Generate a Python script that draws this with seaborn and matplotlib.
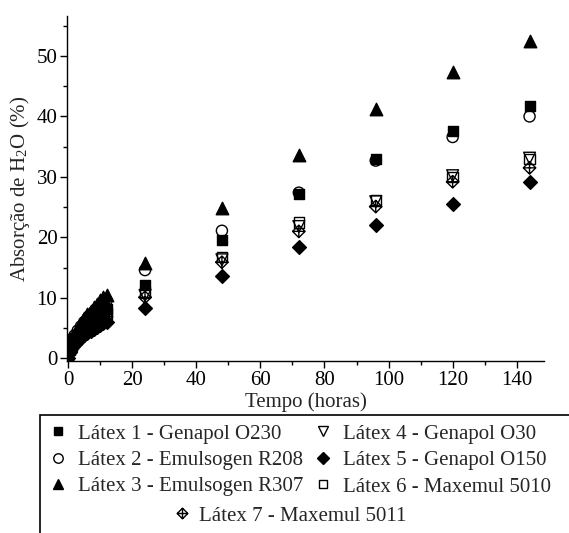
import numpy as np
import pandas as pd
import matplotlib
import matplotlib.pyplot as plt
import seaborn as sns
from matplotlib.path import Path
from matplotlib.lines import Line2D
from matplotlib.patches import Rectangle

# %% data
tempo = [0, 0.5, 1, 1.5, 2, 3, 4, 5, 6, 7, 8, 9, 10, 11, 12, 24, 48, 72, 96, 120, 144]

latex1 = [0, 1.5, 2.3, 2.8, 3.2, 3.9, 4.5, 5.1, 5.6, 6.1, 6.5, 7.0, 7.4, 7.8, 8.1,
          12.2, 19.6, 27.1, 32.9, 37.6, 41.8]
latex2 = [0, 1.8, 2.7, 3.3, 3.8, 4.6, 5.3, 6.0, 6.6, 7.2, 7.7, 8.2, 8.7, 9.1, 9.6,
          14.6, 21.1, 27.4, 32.7, 36.6, 40.0]
latex3 = [0, 2.0, 3.0, 3.6, 4.2, 5.1, 5.9, 6.6, 7.3, 7.9, 8.5, 9.0, 9.6, 10.1, 10.5,
          15.8, 24.9, 33.7, 41.2, 47.4, 52.5]
latex4 = [0, 1.3, 2.0, 2.4, 2.8, 3.4, 3.9, 4.4, 4.9, 5.3, 5.7, 6.1, 6.5, 6.8, 7.1,
          10.4, 16.3, 21.8, 25.9, 30.2, 33.1]
latex5 = [0, 1.1, 1.7, 2.1, 2.4, 2.9, 3.4, 3.8, 4.2, 4.6, 4.9, 5.2, 5.5, 5.8, 6.0,
          8.4, 13.6, 18.4, 22.0, 25.5, 29.1]
latex6 = [0, 1.4, 2.1, 2.5, 2.9, 3.5, 4.1, 4.6, 5.1, 5.5, 5.9, 6.3, 6.7, 7.1, 7.4,
          10.9, 16.8, 22.5, 26.2, 30.0, 33.0]
latex7 = [0, 1.3, 1.9, 2.3, 2.7, 3.3, 3.8, 4.3, 4.7, 5.1, 5.5, 5.9, 6.2, 6.6, 6.9,
          10.1, 15.9, 21.0, 25.1, 29.2, 31.5]

nomes = ["Látex 1 - Genapol O230", "Látex 2 - Emulsogen R208",
         "Látex 3 - Emulsogen R307", "Látex 4 - Genapol O30",
         "Látex 5 - Genapol O150", "Látex 6 - Maxemul 5010",
         "Látex 7 - Maxemul 5011"]
series = [latex1, latex2, latex3, latex4, latex5, latex6, latex7]

# diamond with a cross inside (Latex 7)
codes = [Path.MOVETO, Path.LINETO, Path.LINETO, Path.LINETO, Path.CLOSEPOLY,
         Path.MOVETO, Path.LINETO, Path.MOVETO, Path.LINETO]
verts = [(0, 1), (1, 0), (0, -1), (-1, 0), (0, 1), (0, 1), (0, -1), (-1, 0), (1, 0)]
cruz = Path(verts, codes)

estilos = [("s", "k", 7.5), ("o", "none", 8), ("^", "k", 9), ("v", "none", 8.5),
           ("D", "k", 7), ("s", "none", 7.5), (cruz, "none", 9)]

# %% plot
sns.set_style("ticks")
plt.rcParams["font.family"] = ["Liberation Serif", "DejaVu Serif"]
plt.rcParams["mathtext.fontset"] = "stix"
plt.rcParams["font.size"] = 15

fig = plt.figure(figsize=(5.69, 5.33), dpi=100)
ax = fig.add_axes([0.118, 0.323, 0.838, 0.647])

df = pd.DataFrame({"Tempo": tempo})
for nome, vals in zip(nomes, series):
    df[nome] = vals

for nome, (mk, fc, ms) in zip(nomes, estilos):
    sns.scatterplot(data=df, x="Tempo", y=nome, ax=ax, marker=mk, s=ms ** 2,
                    facecolor=fc, edgecolor="k", linewidth=1.0, zorder=3)

ax.set_xlim(-0.3, 148.5)
ax.set_ylim(-0.4, 56.6)
ax.set_xticks(np.arange(0, 141, 20))
ax.set_yticks(np.arange(0, 51, 10))
ax.xaxis.set_minor_locator(matplotlib.ticker.MultipleLocator(10))
ax.yaxis.set_minor_locator(matplotlib.ticker.MultipleLocator(5))
ax.tick_params(which="major", direction="out", length=5, width=1, pad=2,
               labelsize=15, color="k", labelcolor="k")
ax.tick_params(which="minor", direction="out", length=3, width=1, color="k")
for s in ["top", "right"]:
    ax.spines[s].set_visible(False)
for s in ["left", "bottom"]:
    ax.spines[s].set_linewidth(1)
    ax.spines[s].set_color("k")

ax.set_xlabel("Tempo (horas)", fontsize=15, labelpad=2)
ax.set_ylabel(r"Absorção de H$_{\mathregular{2}}$O (%)", fontsize=15, labelpad=3)

# legend box
fig.patches.append(Rectangle((40 / 569, -0.1), 1.0, 1 - 415 / 533 + 0.1,
                             transform=fig.transFigure, fill=False,
                             edgecolor="k", linewidth=1.2, clip_on=False))

def handle(mk, fc, ms):
    return Line2D([], [], linestyle="none", marker=mk, markersize=ms * 0.85,
                  markerfacecolor=fc, markeredgecolor="k", markeredgewidth=1.0)

hs = [handle(*e) for e in estilos]
leg1 = fig.legend(hs[:6], nomes[:6], ncol=2, loc="upper left",
                  bbox_to_anchor=(50 / 569, 1 - 424 / 533), frameon=False,
                  fontsize=15, handlelength=0.8, handletextpad=0.55,
                  columnspacing=0.55, labelspacing=0.33, borderpad=0,
                  borderaxespad=0)
leg2 = fig.legend(hs[6:], nomes[6:], loc="upper left",
                  bbox_to_anchor=(174 / 569, 1 - 506 / 533), frameon=False,
                  fontsize=15, handlelength=0.8, handletextpad=0.4,
                  borderpad=0, borderaxespad=0)

fig.savefig("out.png", dpi=100)
